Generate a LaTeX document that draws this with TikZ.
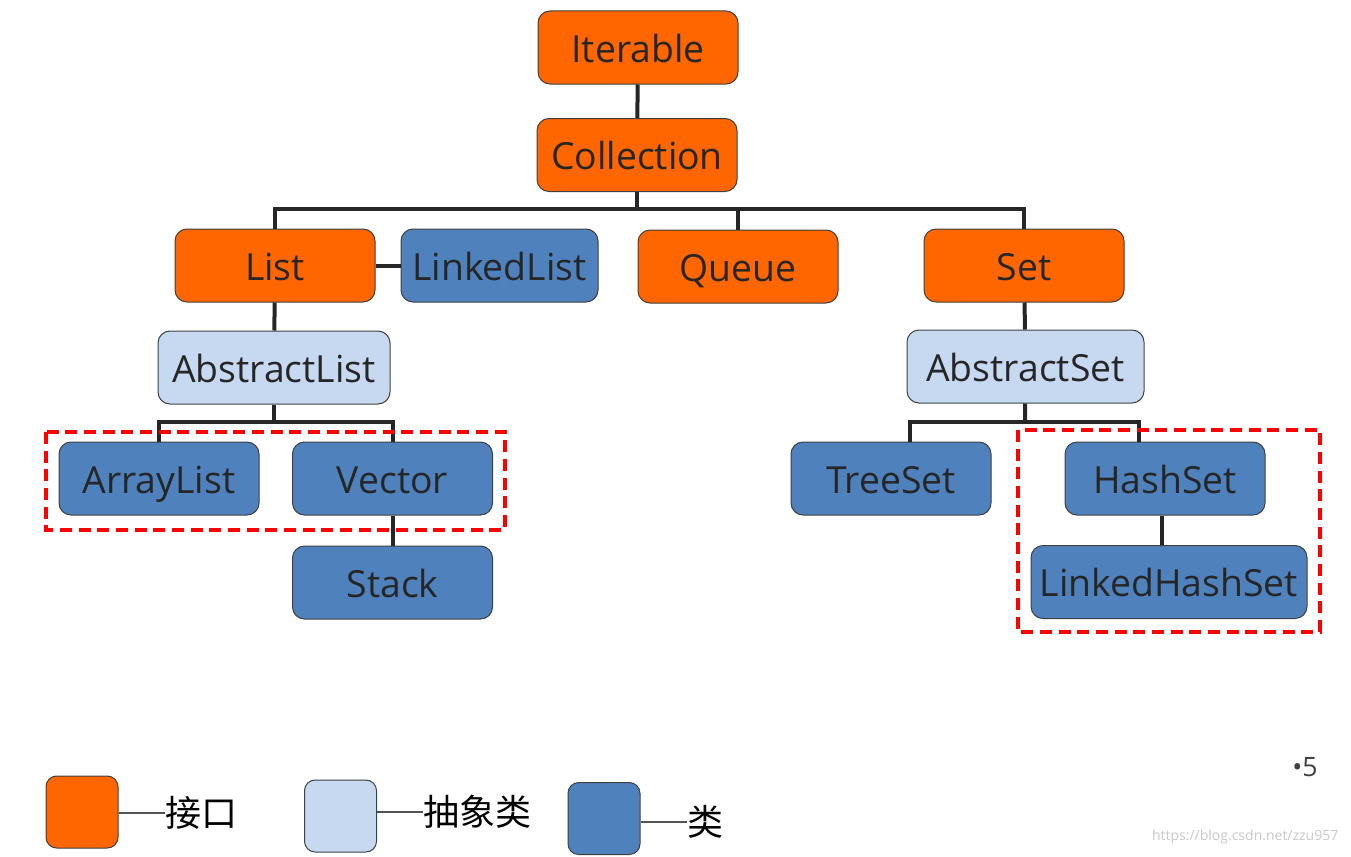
\documentclass[tikz,border=0pt]{standalone}
\usepackage{fontspec}
\setmainfont{Open Sans}
\newfontfamily\cjk{Noto Sans CJK SC}
\usetikzlibrary{calc}
\definecolor{ifcolor}{HTML}{FF6600}
\definecolor{absfill}{HTML}{C6D9F1}
\definecolor{clsfill}{HTML}{4F81BD}
\definecolor{txtgray}{HTML}{262626}
\definecolor{edgegray}{HTML}{404040}
\definecolor{markgray}{HTML}{C8C8C8}

\begin{document}
\begin{tikzpicture}[x=0.75pt,y=-0.75pt,
    every node/.style={text=txtgray,font=\fontsize{28}{32}\selectfont}]
  \tikzstyle{box}=[draw=edgegray,line width=0.75pt,rounded corners=9pt,
    minimum width=150pt,minimum height=54.75pt,inner sep=0pt,
    text height=27pt,text depth=5.2pt]
  \tikzstyle{iface}=[box,fill=ifcolor]
  \tikzstyle{abscls}=[box,fill=absfill]
  \tikzstyle{cls}=[box,fill=clsfill]
  \tikzstyle{link}=[draw=txtgray,line width=3pt]
  \tikzstyle{group}=[draw=red,line width=2.6pt,dash pattern=on 9pt off 5pt]
  \tikzstyle{keybox}=[box,minimum width=54pt,minimum height=54pt,rounded corners=8pt]
  \tikzstyle{keyline}=[draw=edgegray!90,line width=1.5pt]
  \tikzstyle{keytext}=[anchor=west,inner sep=0pt,font=\cjk\fontsize{27}{30}\selectfont,text=black]

  \useasboundingbox (0,0) rectangle (1351,856);

  % interfaces
  \node [iface] (iter) at (638,47.5) {Iterable};
  \node [iface] (coll) at (637,155) {Collection};
  \node [iface] (list) at (275,265.5) {List};
  \node [iface] (queue) at (738,266.5) {Queue};
  \node [iface] (set) at (1024,265.5) {Set};

  % abstract classes
  \node [abscls,minimum width=174pt] (alist) at (274,367.5) {AbstractList};
  \node [abscls,minimum width=177.75pt] (aset) at (1025.5,366.5) {AbstractSet};

  % classes
  \node [cls,minimum width=147.75pt] (llist) at (499.5,265.5) {LinkedList};
  \node [cls] (arr) at (159,478.5) {ArrayList};
  \node [cls] (vec) at (392.5,478.5) {Vector};
  \node [cls] (stack) at (392.5,582.5) {Stack};
  \node [cls] (tree) at (891,478.5) {TreeSet};
  \node [cls] (hset) at (1165,478.5) {HashSet};
  \node [cls,minimum width=207pt] (lhset) at (1169,582) {LinkedHashSet};

  % connectors
  \coordinate (cbus) at (637,209);
  \coordinate (lbus) at (274,422);
  \coordinate (sbus) at (1025,422);
  \draw [link] (iter) -- (coll);
  \draw [link] (coll) -- (cbus);
  \draw [link] (list.north) |- (cbus) -| (set.north);
  \draw [link] (queue.north) |- (cbus);
  \draw [link] (list.east) -- (llist.west);
  \draw [link] (list) -- (alist);
  \draw [link] (set) -- (aset);
  \draw [link] (alist) -- (lbus);
  \draw [link] (arr.north) |- (lbus) -| (vec.north);
  \draw [link] (aset) -- (sbus);
  \draw [link] ([xshift=14.25pt]tree.north) |- (sbus) -| ([xshift=-19.5pt]hset.north);
  \draw [link] (vec) -- (stack);
  \draw [link] ([xshift=-2pt]hset.south) -- ([xshift=-2pt]hset.south |- lhset.north);

  % groups
  \draw [group] (46,432) rectangle (505,530);
  \draw [group] (1018,430) rectangle (1320,632);

  % legend
  \node [keybox,fill=ifcolor] (key1) at (82,812) {};
  \node [keybox,fill=absfill] (key2) at (340.5,816) {};
  \node [keybox,fill=clsfill] (key3) at (604,818.5) {};
  \node [keytext] (key1txt) at (165,813) {接口};
  \node [keytext] (key2txt) at (423,812) {抽象类};
  \node [keytext] (key3txt) at (687,822) {类};
  \draw [keyline] (key1txt.west -| key1.east) -- (key1txt.west);
  \draw [keyline] (key2txt.west -| key2.east) -- (key2txt.west);
  \draw [keyline] (key3txt.west -| key3.east) -- (key3txt.west);

  \node [text=edgegray,font=\fontsize{20}{24}\selectfont] (page) at (1305,767) {•5};
  \node [text=markgray,font=\fontsize{10.5}{12}\selectfont,anchor=east] (mark) at (1343,837) {https://blog.csdn.net/zzu957};
\end{tikzpicture}
\end{document}
